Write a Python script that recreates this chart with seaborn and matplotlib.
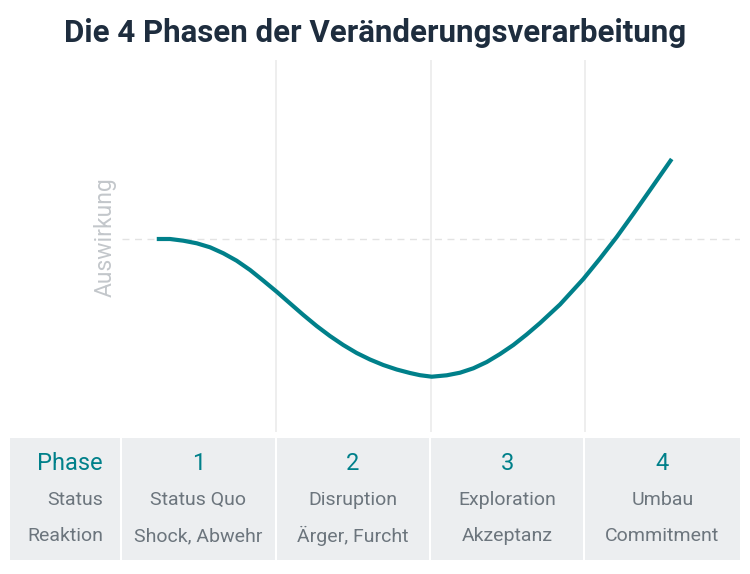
import numpy as np
import pandas as pd
import matplotlib
matplotlib.use("Agg")
import matplotlib.pyplot as plt
from matplotlib.patches import Rectangle
import seaborn as sns

# Curve (x: phase scale 0..4, y: impact, 0 = status quo)
curve_x = [0.225, 0.311, 0.397, 0.484, 0.570, 0.656, 0.742, 0.829, 0.915, 1.001,
           1.087, 1.174, 1.260, 1.346, 1.432, 1.519, 1.605, 1.691, 1.778, 1.864,
           1.929, 2.005, 2.102, 2.188, 2.274, 2.361, 2.447, 2.533, 2.619, 2.706,
           2.835, 2.986, 3.094, 3.202, 3.309, 3.418, 3.558]
curve_y = [0.000, 0.000, -0.017, -0.043, -0.083, -0.143, -0.217, -0.310, -0.417, -0.527,
           -0.643, -0.760, -0.870, -0.970, -1.060, -1.140, -1.205, -1.260, -1.305, -1.340,
           -1.362, -1.377, -1.363, -1.337, -1.293, -1.230, -1.150, -1.060, -0.955, -0.840,
           -0.655, -0.400, -0.195, 0.020, 0.250, 0.490, 0.800]
phase_bounds = [1, 2, 3]

row_labels = ["Phase", "Status", "Reaktion"]
phases = ["1", "2", "3", "4"]
status = ["Status Quo", "Disruption", "Exploration", "Umbau"]
reaktion = ["Shock, Abwehr", "Ärger, Furcht", "Akzeptanz", "Commitment"]

teal = "#00808a"
grey_txt = "#6c757d"
cell_bg = "#eceef0"
title_col = "#1e2d3e"

sns.set_theme(style="white")
plt.rcParams["font.family"] = ["Roboto", "DejaVu Sans"]

fig = plt.figure(figsize=(7.5, 5.74), dpi=100)
W, H = 750, 574

# overlay axes in pixel coordinates for title and table
bg = fig.add_axes([0, 0, 1, 1])
bg.set_xlim(0, W)
bg.set_ylim(H, 0)
bg.axis("off")

# main chart axes
left, right, top, bottom = 122, 740, 60, 432
ax = fig.add_axes([left / W, 1 - bottom / H, (right - left) / W, (bottom - top) / H])
df = pd.DataFrame({"x": curve_x, "y": curve_y})
for b in phase_bounds:
    ax.axvline(b, color="#ebebeb", lw=1.2, zorder=0)
ax.axhline(0, color="#e3e3e3", lw=1, ls=(0, (5, 4)), zorder=0)
sns.lineplot(data=df, x="x", y="y", ax=ax, color=teal, lw=3, sort=False,
             solid_joinstyle="round", solid_capstyle="butt")
ax.set_xlim(0, 4)
ax.set_ylim(-1.93, 1.79)
ax.set_xticks([])
ax.set_yticks([])
ax.set_xlabel("")
ax.set_ylabel("")
for s in ax.spines.values():
    s.set_visible(False)
ax.patch.set_alpha(0)

bg.text(105, 237, "Auswirkung", rotation=90, ha="center", va="center",
        fontsize=16.5, color="#c3c7cb")

bg.text(375, 33, "Die 4 Phasen der Veränderungsverarbeitung", ha="center", va="center",
        fontsize=22.5, fontweight="bold", color=title_col)

# table
cols = [(10, 120), (122, 275), (277, 429), (431, 583), (585, 740)]
ty0, ty1 = 438, 560
for x0, x1 in cols:
    bg.add_patch(Rectangle((x0, ty0), x1 - x0, ty1 - ty0, color=cell_bg, lw=0))

row_y = [463, 500, 536]
bg.text(103, row_y[0], row_labels[0], ha="right", va="center", fontsize=17, color=teal)
bg.text(103, row_y[1], row_labels[1], ha="right", va="center", fontsize=14, color=grey_txt)
bg.text(103, row_y[2], row_labels[2], ha="right", va="center", fontsize=14, color=grey_txt)
for i, (x0, x1) in enumerate(cols[1:]):
    cx = (x0 + x1) / 2
    bg.text(cx, row_y[0], phases[i], ha="center", va="center", fontsize=17, color=teal)
    bg.text(cx, row_y[1], status[i], ha="center", va="center", fontsize=14, color=grey_txt)
    bg.text(cx, row_y[2], reaktion[i], ha="center", va="center", fontsize=14, color=grey_txt)

fig.savefig("out.png", dpi=100)
